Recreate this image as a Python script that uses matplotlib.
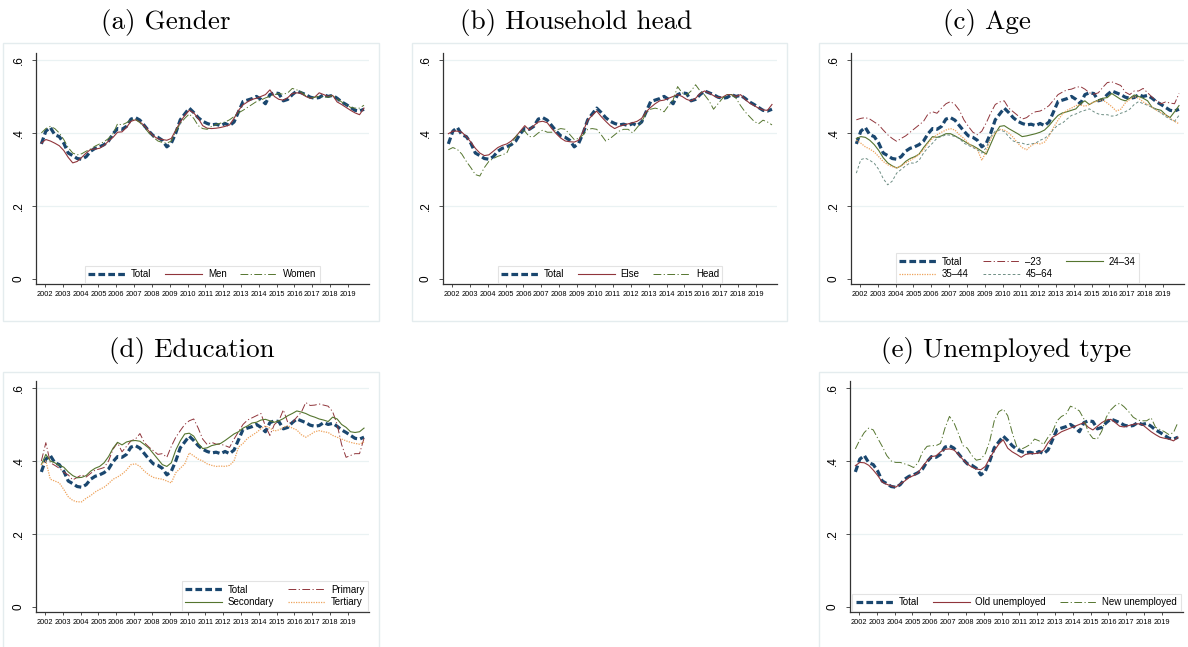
"""Five-panel line figure: rates by group, 2002-2019."""

import numpy as np
from matplotlib import pyplot as plt
from matplotlib.patches import Rectangle

W, H = 1188, 647

# values at roughly quarterly steps, late 2001 to end 2019
years = np.linspace(2001.8, 2019.9, 73)
year_ticks = list(range(2002, 2020))
y_ticks = [0, 0.2, 0.4, 0.6]
y_tick_labels = ["0", ".2", ".4", ".6"]

total = [0.370, 0.405, 0.415, 0.395, 0.390, 0.372, 0.345, 0.338, 0.330, 0.328,
         0.335, 0.350, 0.358, 0.362, 0.368, 0.378, 0.398, 0.412, 0.410, 0.418,
         0.438, 0.442, 0.435, 0.420, 0.405, 0.392, 0.388, 0.380, 0.362, 0.372,
         0.400, 0.436, 0.452, 0.468, 0.456, 0.442, 0.432, 0.426, 0.422, 0.424,
         0.420, 0.426, 0.420, 0.430, 0.458, 0.486, 0.490, 0.494, 0.500, 0.492,
         0.480, 0.505, 0.510, 0.508, 0.488, 0.492, 0.505, 0.515, 0.510, 0.505,
         0.498, 0.495, 0.497, 0.505, 0.500, 0.503, 0.495, 0.485, 0.478, 0.470,
         0.462, 0.460, 0.465]
men = [0.372, 0.382, 0.378, 0.372, 0.365, 0.352, 0.333, 0.318, 0.322, 0.333,
       0.345, 0.355, 0.356, 0.358, 0.366, 0.378, 0.388, 0.402, 0.403, 0.415,
       0.432, 0.436, 0.430, 0.420, 0.405, 0.392, 0.384, 0.382, 0.380, 0.385,
       0.408, 0.430, 0.448, 0.462, 0.455, 0.440, 0.420, 0.413, 0.412, 0.413,
       0.415, 0.418, 0.422, 0.440, 0.462, 0.477, 0.485, 0.492, 0.495, 0.500,
       0.505, 0.518, 0.500, 0.492, 0.490, 0.497, 0.508, 0.510, 0.508, 0.500,
       0.495, 0.498, 0.510, 0.505, 0.500, 0.503, 0.485, 0.478, 0.470, 0.462,
       0.455, 0.450, 0.468]
women = [0.400, 0.412, 0.418, 0.412, 0.400, 0.382, 0.360, 0.345, 0.340, 0.343,
         0.350, 0.356, 0.364, 0.370, 0.376, 0.385, 0.398, 0.425, 0.422, 0.428,
         0.436, 0.437, 0.428, 0.415, 0.400, 0.388, 0.378, 0.374, 0.372, 0.378,
         0.405, 0.425, 0.440, 0.452, 0.440, 0.420, 0.412, 0.410, 0.418, 0.423,
         0.427, 0.430, 0.436, 0.445, 0.455, 0.462, 0.470, 0.478, 0.486, 0.490,
         0.496, 0.500, 0.505, 0.508, 0.506, 0.510, 0.522, 0.518, 0.512, 0.502,
         0.495, 0.498, 0.500, 0.498, 0.498, 0.503, 0.494, 0.485, 0.478, 0.470,
         0.468, 0.468, 0.476]
hh_else = [0.398, 0.405, 0.405, 0.402, 0.390, 0.375, 0.358, 0.345, 0.338, 0.340,
           0.350, 0.360, 0.366, 0.370, 0.378, 0.390, 0.405, 0.420, 0.408, 0.420,
           0.430, 0.432, 0.428, 0.412, 0.398, 0.386, 0.378, 0.376, 0.375, 0.380,
           0.405, 0.435, 0.448, 0.460, 0.445, 0.432, 0.420, 0.412, 0.418, 0.422,
           0.425, 0.428, 0.432, 0.440, 0.458, 0.470, 0.480, 0.488, 0.490, 0.495,
           0.500, 0.505, 0.500, 0.492, 0.488, 0.495, 0.508, 0.515, 0.510, 0.502,
           0.497, 0.498, 0.505, 0.505, 0.500, 0.505, 0.492, 0.482, 0.475, 0.468,
           0.463, 0.462, 0.478]
hh_head = [0.354, 0.360, 0.355, 0.342, 0.322, 0.305, 0.286, 0.282, 0.305, 0.322,
           0.330, 0.336, 0.340, 0.345, 0.372, 0.390, 0.405, 0.405, 0.390, 0.390,
           0.400, 0.408, 0.402, 0.402, 0.408, 0.412, 0.410, 0.396, 0.382, 0.385,
           0.395, 0.410, 0.412, 0.410, 0.395, 0.378, 0.385, 0.395, 0.405, 0.410,
           0.410, 0.400, 0.415, 0.430, 0.455, 0.465, 0.468, 0.465, 0.458, 0.475,
           0.490, 0.527, 0.510, 0.504, 0.515, 0.532, 0.515, 0.504, 0.488, 0.465,
           0.480, 0.495, 0.505, 0.505, 0.495, 0.475, 0.458, 0.445, 0.432, 0.425,
           0.435, 0.430, 0.422]
age_u23 = [0.436, 0.440, 0.442, 0.438, 0.430, 0.422, 0.408, 0.395, 0.385, 0.377,
           0.385, 0.392, 0.402, 0.412, 0.422, 0.432, 0.452, 0.458, 0.454, 0.468,
           0.480, 0.486, 0.478, 0.462, 0.436, 0.418, 0.402, 0.395, 0.405, 0.428,
           0.455, 0.478, 0.485, 0.488, 0.468, 0.458, 0.448, 0.438, 0.442, 0.452,
           0.458, 0.460, 0.466, 0.475, 0.490, 0.505, 0.512, 0.518, 0.520, 0.525,
           0.527, 0.520, 0.510, 0.506, 0.510, 0.525, 0.538, 0.540, 0.535, 0.530,
           0.512, 0.505, 0.515, 0.515, 0.522, 0.510, 0.498, 0.488, 0.480, 0.485,
           0.482, 0.480, 0.508]
age_24_34 = [0.385, 0.390, 0.388, 0.380, 0.368, 0.352, 0.332, 0.318, 0.310, 0.304,
             0.310, 0.322, 0.330, 0.335, 0.342, 0.360, 0.375, 0.390, 0.388, 0.392,
             0.398, 0.398, 0.392, 0.385, 0.378, 0.370, 0.365, 0.358, 0.350, 0.342,
             0.370, 0.398, 0.418, 0.420, 0.412, 0.405, 0.398, 0.390, 0.392, 0.395,
             0.398, 0.402, 0.408, 0.420, 0.435, 0.448, 0.455, 0.458, 0.462, 0.466,
             0.480, 0.488, 0.478, 0.485, 0.490, 0.495, 0.497, 0.508, 0.500, 0.492,
             0.488, 0.495, 0.504, 0.500, 0.495, 0.488, 0.470, 0.465, 0.462, 0.450,
             0.442, 0.458, 0.475]
age_35_44 = [0.380, 0.372, 0.362, 0.356, 0.348, 0.335, 0.322, 0.313, 0.308, 0.304,
             0.310, 0.318, 0.325, 0.332, 0.342, 0.354, 0.372, 0.385, 0.395, 0.402,
             0.408, 0.412, 0.408, 0.395, 0.385, 0.372, 0.362, 0.355, 0.325, 0.350,
             0.385, 0.400, 0.410, 0.408, 0.400, 0.388, 0.372, 0.360, 0.354, 0.365,
             0.372, 0.370, 0.375, 0.392, 0.415, 0.435, 0.452, 0.462, 0.468, 0.475,
             0.477, 0.473, 0.478, 0.485, 0.488, 0.490, 0.482, 0.472, 0.460, 0.465,
             0.482, 0.492, 0.500, 0.495, 0.485, 0.478, 0.470, 0.462, 0.455, 0.450,
             0.440, 0.432, 0.425]
age_45_64 = [0.290, 0.327, 0.331, 0.325, 0.317, 0.300, 0.275, 0.258, 0.268, 0.290,
             0.300, 0.310, 0.318, 0.317, 0.325, 0.345, 0.360, 0.372, 0.386, 0.390,
             0.395, 0.394, 0.390, 0.385, 0.372, 0.366, 0.360, 0.354, 0.345, 0.360,
             0.390, 0.405, 0.408, 0.404, 0.390, 0.378, 0.374, 0.372, 0.368, 0.370,
             0.372, 0.380, 0.385, 0.395, 0.410, 0.422, 0.427, 0.438, 0.448, 0.452,
             0.458, 0.462, 0.466, 0.458, 0.452, 0.450, 0.450, 0.446, 0.448, 0.454,
             0.458, 0.465, 0.478, 0.486, 0.480, 0.476, 0.470, 0.463, 0.455, 0.445,
             0.438, 0.432, 0.448]
primary = [0.400, 0.450, 0.395, 0.388, 0.380, 0.369, 0.362, 0.348, 0.355, 0.362,
           0.356, 0.366, 0.375, 0.378, 0.382, 0.400, 0.432, 0.450, 0.425, 0.440,
           0.455, 0.460, 0.475, 0.450, 0.438, 0.428, 0.418, 0.420, 0.410, 0.440,
           0.465, 0.483, 0.500, 0.510, 0.515, 0.490, 0.460, 0.445, 0.451, 0.446,
           0.446, 0.442, 0.437, 0.460, 0.480, 0.500, 0.512, 0.518, 0.524, 0.530,
           0.495, 0.470, 0.500, 0.510, 0.540, 0.505, 0.505, 0.520, 0.533, 0.560,
           0.552, 0.553, 0.556, 0.553, 0.550, 0.535, 0.500, 0.445, 0.410, 0.415,
           0.420, 0.420, 0.462]
secondary = [0.390, 0.418, 0.400, 0.395, 0.388, 0.383, 0.370, 0.360, 0.354, 0.355,
             0.360, 0.372, 0.380, 0.385, 0.395, 0.412, 0.435, 0.451, 0.444, 0.452,
             0.455, 0.456, 0.454, 0.445, 0.435, 0.420, 0.405, 0.390, 0.385, 0.395,
             0.430, 0.455, 0.474, 0.476, 0.468, 0.448, 0.434, 0.436, 0.442, 0.445,
             0.448, 0.456, 0.465, 0.474, 0.480, 0.490, 0.496, 0.504, 0.506, 0.512,
             0.514, 0.510, 0.506, 0.510, 0.516, 0.524, 0.530, 0.537, 0.534, 0.530,
             0.524, 0.520, 0.515, 0.512, 0.508, 0.520, 0.515, 0.500, 0.492, 0.480,
             0.478, 0.480, 0.490]
tertiary = [0.390, 0.400, 0.350, 0.345, 0.340, 0.322, 0.302, 0.292, 0.288, 0.288,
            0.298, 0.305, 0.315, 0.322, 0.328, 0.338, 0.350, 0.356, 0.364, 0.375,
            0.390, 0.392, 0.385, 0.372, 0.362, 0.355, 0.352, 0.350, 0.345, 0.340,
            0.368, 0.380, 0.392, 0.422, 0.414, 0.405, 0.400, 0.392, 0.388, 0.385,
            0.386, 0.385, 0.388, 0.400, 0.438, 0.448, 0.462, 0.470, 0.478, 0.488,
            0.496, 0.490, 0.482, 0.485, 0.492, 0.497, 0.490, 0.485, 0.472, 0.465,
            0.472, 0.480, 0.483, 0.480, 0.478, 0.470, 0.465, 0.460, 0.455, 0.451,
            0.448, 0.446, 0.452]
old_unemp = [0.387, 0.396, 0.395, 0.388, 0.375, 0.360, 0.342, 0.336, 0.332, 0.328,
             0.337, 0.345, 0.355, 0.360, 0.368, 0.385, 0.400, 0.412, 0.414, 0.425,
             0.432, 0.433, 0.430, 0.418, 0.404, 0.392, 0.383, 0.378, 0.376, 0.385,
             0.408, 0.428, 0.446, 0.458, 0.435, 0.425, 0.418, 0.410, 0.418, 0.420,
             0.420, 0.422, 0.430, 0.450, 0.465, 0.472, 0.480, 0.485, 0.490, 0.495,
             0.500, 0.505, 0.492, 0.485, 0.495, 0.505, 0.512, 0.514, 0.505, 0.495,
             0.493, 0.497, 0.500, 0.502, 0.500, 0.490, 0.480, 0.472, 0.465, 0.462,
             0.460, 0.455, 0.465]
new_unemp = [0.433, 0.458, 0.478, 0.490, 0.485, 0.462, 0.440, 0.415, 0.400, 0.396,
             0.396, 0.392, 0.388, 0.382, 0.395, 0.425, 0.440, 0.442, 0.442, 0.448,
             0.490, 0.522, 0.505, 0.475, 0.442, 0.435, 0.415, 0.402, 0.405, 0.420,
             0.455, 0.510, 0.535, 0.542, 0.524, 0.478, 0.440, 0.432, 0.438, 0.445,
             0.460, 0.455, 0.445, 0.465, 0.480, 0.510, 0.522, 0.528, 0.550, 0.545,
             0.537, 0.515, 0.478, 0.462, 0.460, 0.482, 0.520, 0.540, 0.552, 0.558,
             0.548, 0.535, 0.520, 0.512, 0.510, 0.510, 0.518, 0.492, 0.486, 0.480,
             0.472, 0.478, 0.506]

# stata s2color-like palette
NAVY, MAROON, GREEN = "#1a476f", "#90353b", "#55752f"
ORANGE, TEAL = "#eea25a", "#6e8e84"

TOTAL = dict(color=NAVY, lw=2.3, dashes=(2.1, 1.0))
SOLID_RED = dict(color=MAROON, lw=0.8)
SOLID_GREEN = dict(color=GREEN, lw=0.8)
DASHDOT_GREEN = dict(color=GREEN, lw=0.7, dashes=(8, 2.5, 1.2, 2.5))
DASHDOT_RED = dict(color=MAROON, lw=0.7, dashes=(8, 2.5, 1.2, 2.5))
DOT_ORANGE = dict(color=ORANGE, lw=0.9, dashes=(1.0, 1.0))
SHORTDASH_TEAL = dict(color=TEAL, lw=0.7, dashes=(2.8, 2.2))

DASH = "\u2013"

# (title, title centre px, panel box px, axes px, series, legend ncol, legend loc)
panels = [
    ("(a) Gender", (166, 22), (3, 43, 379, 321), (36, 53, 369, 284),
     [("Total", total, TOTAL), ("Men", men, SOLID_RED),
      ("Women", women, DASHDOT_GREEN)], 3, "lower center"),
    ("(b) Household head", (576, 22), (412, 43, 787, 321), (443, 53, 777, 284),
     [("Total", total, TOTAL), ("Else", hh_else, SOLID_RED),
      ("Head", hh_head, DASHDOT_GREEN)], 3, "lower center"),
    ("(c) Age", (987, 22), (819, 43, 1195, 321), (851, 53, 1184, 284),
     [("Total", total, TOTAL), ("35" + DASH + "44", age_35_44, DOT_ORANGE),
      (DASH + "23", age_u23, DASHDOT_RED), ("45" + DASH + "64", age_45_64, SHORTDASH_TEAL),
      ("24" + DASH + "34", age_24_34, SOLID_GREEN)], 3, "lower center"),
    ("(d) Education", (192, 350), (3, 372, 379, 660), (36, 381, 369, 612),
     [("Total", total, TOTAL), ("Secondary", secondary, SOLID_GREEN),
      ("Primary", primary, DASHDOT_RED), ("Tertiary", tertiary, DOT_ORANGE)],
     2, "lower right"),
    ("(e) Unemployed type", (1006, 350), (819, 372, 1195, 660), (850, 381, 1183, 612),
     [("Total", total, TOTAL), ("Old unemployed", old_unemp, SOLID_RED),
      ("New unemployed", new_unemp, DASHDOT_GREEN)], 3, "lower center"),
]

DRAW_ORDER = ["Total", "Men", "Women", "Else", "Head", DASH + "23", "24" + DASH + "34",
              "35" + DASH + "44", "45" + DASH + "64", "Primary", "Secondary", "Tertiary",
              "Old unemployed", "New unemployed"]


def px_rect(x0, y0, x1, y1):
    return [x0 / W, 1 - y1 / H, (x1 - x0) / W, (y1 - y0) / H]


plt.rcParams["font.family"] = ["Liberation Sans", "DejaVu Sans"]
fig = plt.figure(figsize=(W / 100, H / 100), dpi=100)

for title, (tx, ty), box, rect, series, ncol, loc in panels:
    bx = px_rect(*box)
    fig.add_artist(Rectangle((bx[0], bx[1]), bx[2], bx[3], transform=fig.transFigure,
                             facecolor="white", edgecolor="#e4ecee", lw=1.0, zorder=0))
    fig.text(tx / W, 1 - ty / H, title, ha="center", va="center",
             fontsize=19.5, family="cmr10")

    ax = fig.add_axes(px_rect(*rect))
    ax.set_facecolor("none")
    handles = {}
    for label, values, style in sorted(series, key=lambda s: DRAW_ORDER.index(s[0])):
        line, = ax.plot(years, values, label=label, **style)
        handles[label] = line
    order = [s[0] for s in series]

    ax.set_xlim(2001.5, 2020.18)
    ax.set_ylim(-0.0137, 0.619)
    ax.set_xticks(year_ticks)
    ax.set_xticklabels([str(y) for y in year_ticks], fontsize=5.3)
    ax.set_yticks(y_ticks)
    ax.set_yticklabels(y_tick_labels, fontsize=8.5, rotation=90, va="center")
    ax.tick_params(axis="x", length=2.5, width=0.6, pad=2.5, color="#333333")
    ax.tick_params(axis="y", length=3, width=0.6, pad=5, color="#333333")
    for y in y_ticks[1:]:
        ax.axhline(y, color="#eaf2f3", lw=0.9, zorder=0)
    for side in ("top", "right"):
        ax.spines[side].set_visible(False)
    for side in ("left", "bottom"):
        ax.spines[side].set_color("#333333")
        ax.spines[side].set_linewidth(0.9)

    leg = ax.legend([handles[k] for k in order], order, loc=loc, ncol=ncol,
                    fontsize=7, frameon=True, fancybox=False, borderaxespad=0.15,
                    handlelength=3.8, handletextpad=0.6, columnspacing=1.4,
                    borderpad=0.35, labelspacing=0.25)
    leg.get_frame().set_edgecolor("#dcdcdc")
    leg.get_frame().set_linewidth(0.8)

fig.savefig("out.png", dpi=100)
